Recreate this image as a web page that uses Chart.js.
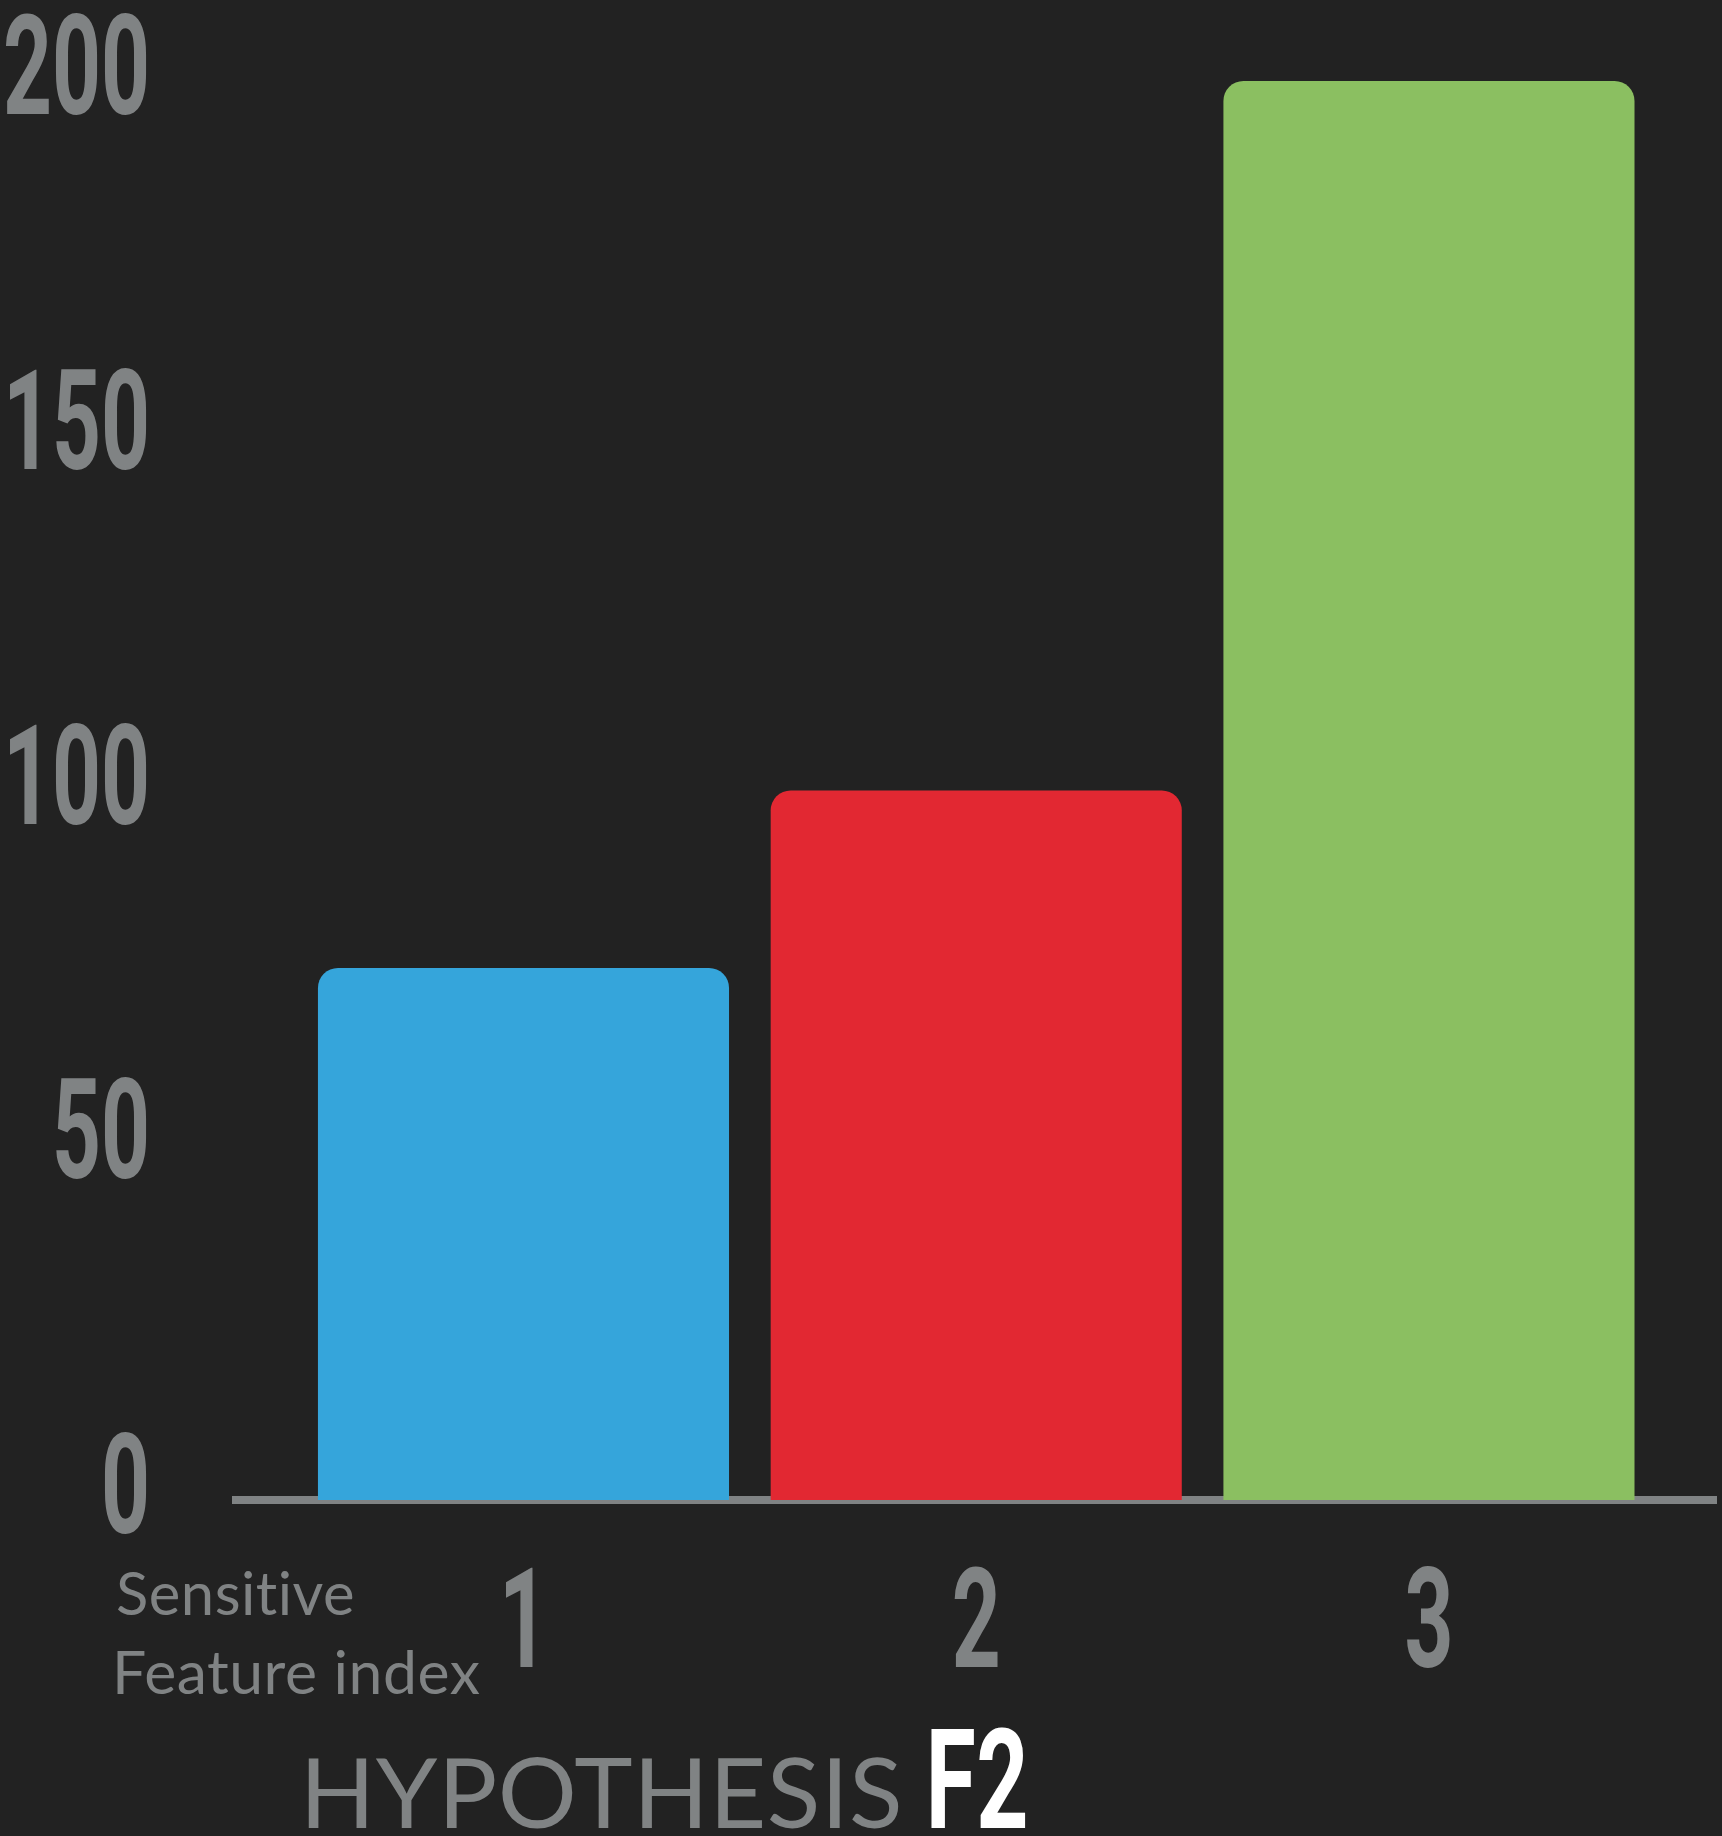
<!DOCTYPE html>
<html>
<head>
<meta charset="utf-8">
<script src="https://cdn.jsdelivr.net/npm/chart.js@4.4.1/dist/chart.umd.min.js"></script>
<style>
  html, body { margin: 0; padding: 0; background: #222222; }
  #wrap { position: relative; width: 1722px; height: 1836px; }
</style>
</head>
<body>
<div id="wrap"><canvas id="chart" width="1722" height="1836"></canvas></div>
<script>
// Counts per sensitive feature index
const categories = ['1', '2', '3'];
const counts = [75, 100, 200];
const barColors = ['#35a5db', '#e22832', '#8bbf61'];
const yTickValues = [0, 50, 100, 150, 200];
const axisCaption = ['Sensitive', 'Feature index'];
const heading = 'HYPOTHESIS';
const headingTag = 'F2';

const GREY = '#808384';
const NUM_FONT = "Roboto, 'DejaVu Sans', sans-serif";
const TEXT_FONT = "Lato, 'Noto Sans', sans-serif";
const NUM_CONDENSE = 0.61;

// Linear scale whose tick labels are drawn horizontally condensed (display-style numerals)
class CondensedLinearScale extends Chart.LinearScale {
  drawLabels(area) {
    const ctx = this.ctx;
    const sx = NUM_CONDENSE;
    const nativeFill = CanvasRenderingContext2D.prototype.fillText;
    ctx.fillText = function (text, x, y, maxWidth) {
      this.save();
      this.scale(sx, 1);
      if (maxWidth === undefined) nativeFill.call(this, text, x / sx, y);
      else nativeFill.call(this, text, x / sx, y, maxWidth / sx);
      this.restore();
    };
    try { super.drawLabels(area); } finally { delete ctx.fillText; }
  }
}
CondensedLinearScale.id = 'condensedLinear';
CondensedLinearScale.defaults = Chart.LinearScale.defaults;
Chart.register(CondensedLinearScale);

// Draw a string so that its ink starts at x and spans inkWidth (horizontally condensed if needed)
function drawFitted(ctx, text, x, y, font, color, inkWidth) {
  ctx.save();
  ctx.font = font;
  ctx.fillStyle = color;
  ctx.textAlign = 'left';
  ctx.textBaseline = 'alphabetic';
  try { ctx.letterSpacing = '0.5px'; } catch (e) {}
  const m = ctx.measureText(text);
  const w = m.actualBoundingBoxLeft + m.actualBoundingBoxRight;
  const sx = inkWidth ? inkWidth / w : 1;
  ctx.translate(x, y);
  ctx.scale(sx, 1);
  ctx.fillText(text, m.actualBoundingBoxLeft, 0);
  ctx.restore();
}

const captions = {
  id: 'captions',
  afterDraw(chart) {
    const ctx = chart.ctx;
    drawFitted(ctx, axisCaption[0], 117, 1615, `400 60px ${TEXT_FONT}`, GREY, 236);
    drawFitted(ctx, axisCaption[1], 117, 1694, `400 60px ${TEXT_FONT}`, GREY, 363);
    drawFitted(ctx, heading, 308, 1828, `400 97px ${TEXT_FONT}`, GREY, 591);
    drawFitted(ctx, headingTag, 931, 1828, `700 140px ${NUM_FONT}`, '#ffffff', 94);
  }
};

const numFont = { family: NUM_FONT, size: 140, weight: 'bold', lineHeight: 1.2 };

// Keep the plot area edges fixed: labels may overhang it
function noEdgePadding(scale) {
  scale.paddingTop = 0;
  scale.paddingBottom = 0;
  scale.paddingLeft = 0;
  scale.paddingRight = 0;
}

const chart = new Chart(document.getElementById('chart'), {
  type: 'bar',
  data: {
    datasets: [{
      data: categories.map((c, i) => ({ x: Number(c), y: counts[i] })),
      backgroundColor: barColors,
      borderWidth: 0,
      borderRadius: { topLeft: 20, topRight: 20, bottomLeft: 0, bottomRight: 0 },
      borderSkipped: 'start',
      barPercentage: 0.908,
      categoryPercentage: 1.0
    }]
  },
  options: {
    responsive: false,
    devicePixelRatio: 1,
    animation: false,
    layout: { padding: { top: 81, left: 0, right: 6, bottom: 0 } },
    plugins: {
      legend: { display: false },
      tooltip: { enabled: false },
      title: { display: false }
    },
    scales: {
      x: {
        type: 'condensedLinear',
        min: 0.365,
        max: 3.634,
        offset: false,
        bounds: 'data',
        grid: { display: false, offset: false },
        border: { display: true, color: GREY, width: 8 },
        afterBuildTicks: (scale) => { scale.ticks = categories.map(c => ({ value: Number(c) })); },
        afterFit: (scale) => { scale.height = 336; noEdgePadding(scale); },
        ticks: {
          autoSkip: false,
          maxRotation: 0,
          padding: 40,
          color: GREY,
          font: numFont,
          callback: (v) => String(v)
        }
      },
      y: {
        type: 'condensedLinear',
        min: 0,
        max: 200,
        grid: { display: false },
        border: { display: false },
        afterBuildTicks: (scale) => { scale.ticks = yTickValues.map(v => ({ value: v })); },
        afterFit: (scale) => { scale.width = 236; noEdgePadding(scale); },
        ticks: {
          padding: 78,
          labelOffset: -2,
          color: GREY,
          font: numFont,
          callback: (v) => String(v)
        }
      }
    }
  },
  plugins: [captions]
});
</script>
</body>
</html>
